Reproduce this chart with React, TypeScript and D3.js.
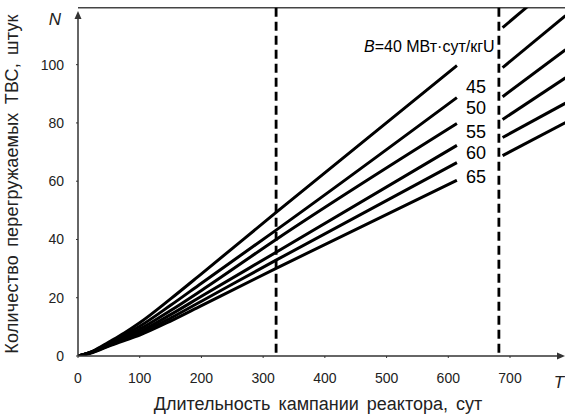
import React from "react";
import * as d3 from "d3";

// campaign length T (days) and number of reloaded assemblies N
const burnups = [40, 45, 50, 55, 60, 65];
const tEarly = [0, 25, 50, 75, 100, 150, 200, 321, 614];
const n40 = [0, 1.8, 4.8, 7.9, 11.4, 19.6, 28.2, 49.3, 99.7];
const n45 = [0, 1.7, 4.4, 7.2, 10.2, 17.4, 25.0, 43.2, 88.7];
const n50 = [0, 1.6, 4.1, 6.6, 9.2, 15.6, 22.5, 40.0, 79.8];
const n55 = [0, 1.5, 3.8, 6.1, 8.4, 14.2, 20.5, 35.6, 72.3];
const n60 = [0, 1.4, 3.6, 5.7, 7.8, 13.0, 18.8, 32.9, 66.4];
const n65 = [0, 1.3, 3.4, 5.3, 7.2, 12.0, 17.3, 30.1, 60.3];

const tLate = [688, 790];
const n40Late = [112.7, 131.0];
const n45Late = [99.0, 116.8];
const n50Late = [89.0, 105.1];
const n55Late = [81.2, 95.5];
const n60Late = [75.0, 86.8];
const n65Late = [68.8, 80.1];

const limits = [321, 682];
const xTicks = [0, 100, 200, 300, 400, 500, 600, 700];
const yTicks = [0, 20, 40, 60, 80, 100];
const labelN = [92.3, 85.1, 76.9, 69.7, 61.5];

const W = 565;
const H = 414;
const FONT = "Liberation Sans, Arial, sans-serif";

export default function App() {
  const x = d3.scaleLinear().domain([0, 700]).range([78, 510]);
  const y = d3.scaleLinear().domain([0, 120]).range([356, 6.4]);
  const top = y(119.5);

  const early = [n40, n45, n50, n55, n60, n65];
  const late = [n40Late, n45Late, n50Late, n55Late, n60Late, n65Late];

  const mk = d3
    .line<[number, number]>()
    .x((d) => x(d[0]))
    .y((d) => y(d[1]))
    .curve(d3.curveMonotoneX);

  const x0 = x(0);
  const y0 = y(0);

  return (
    <svg
      width={W}
      height={H}
      style={{ position: "absolute", left: 0, top: 0, background: "#fff" }}
      fontFamily={FONT}
    >
      <defs>
        <clipPath id="plot">
          <rect x={x0} y={top} width={W - x0} height={y0 - top} />
        </clipPath>
      </defs>

      {/* frame top */}
      <line x1={x0} x2={W} y1={top} y2={top} stroke="#444" strokeWidth={1.5} />

      {/* campaign limits */}
      {limits.map((t) => (
        <line
          key={t}
          x1={x(t)}
          x2={x(t)}
          y1={top}
          y2={y0}
          stroke="#000"
          strokeWidth={2.8}
          strokeDasharray="9,5"
        />
      ))}

      <g clipPath="url(#plot)">
        {burnups.map((b, i) => (
          <g key={b}>
            <path
              d={mk(tEarly.map((t, j) => [t, early[i][j]] as [number, number])) || ""}
              fill="none"
              stroke="#000"
              strokeWidth={3}
            />
            <path
              d={mk(tLate.map((t, j) => [t, late[i][j]] as [number, number])) || ""}
              fill="none"
              stroke="#000"
              strokeWidth={3}
            />
          </g>
        ))}
      </g>

      {/* axes */}
      <line x1={x0} x2={x0} y1={y0} y2={16} stroke="#333" strokeWidth={1.5} />
      <path d={`M${x0},11 L${x0 - 3.5},19 L${x0 + 3.5},19 Z`} fill="#333" />
      <line x1={x0} x2={W - 5} y1={y0} y2={y0} stroke="#333" strokeWidth={1.5} />
      <path d={`M${W},${y0} L${W - 8},${y0 - 3.5} L${W - 8},${y0 + 3.5} Z`} fill="#333" />

      {yTicks.map((v) => (
        <g key={v}>
          <line x1={x0 - 2} x2={x0} y1={y(v)} y2={y(v)} stroke="#333" />
          <text x={64} y={y(v)} dy="0.35em" textAnchor="end" fontSize={14} fill="#222">
            {v}
          </text>
        </g>
      ))}
      {xTicks.map((v) => (
        <g key={v}>
          <line x1={x(v)} x2={x(v)} y1={y0} y2={y0 + 2} stroke="#333" />
          <text x={x(v)} y={383} textAnchor="middle" fontSize={14} fill="#222">
            {v}
          </text>
        </g>
      ))}

      <text x={55} y={25} textAnchor="middle" fontSize={17} fontStyle="italic" fill="#222">
        N
      </text>
      <text x={559} y={388} textAnchor="middle" fontSize={17} fontStyle="italic" fill="#222">
        T
      </text>

      <text
        transform={`translate(18,${(y0 + 12) / 2}) rotate(-90)`}
        textAnchor="middle"
        fontSize={18}
        wordSpacing={3}
        letterSpacing={0.2}
        fill="#222"
      >
        Количество перегружаемых ТВС, штук
      </text>
      <text
        x={(153 + 483) / 2}
        y={410}
        textAnchor="middle"
        fontSize={18}
        wordSpacing={3}
        fill="#222"
      >
        Длительность кампании реактора, сут
      </text>

      {/* burnup labels */}
      <text x={x(675)} y={y(104.5)} textAnchor="end" fontSize={16} fill="#000">
        <tspan fontStyle="italic">B</tspan>=40 МВт·сут/кгU
      </text>
      {burnups.slice(1).map((b, i) => (
        <text
          key={b}
          x={x(645)}
          y={y(labelN[i])}
          dy="0.35em"
          textAnchor="middle"
          fontSize={18}
          fill="#000"
        >
          {b}
        </text>
      ))}
    </svg>
  );
}
